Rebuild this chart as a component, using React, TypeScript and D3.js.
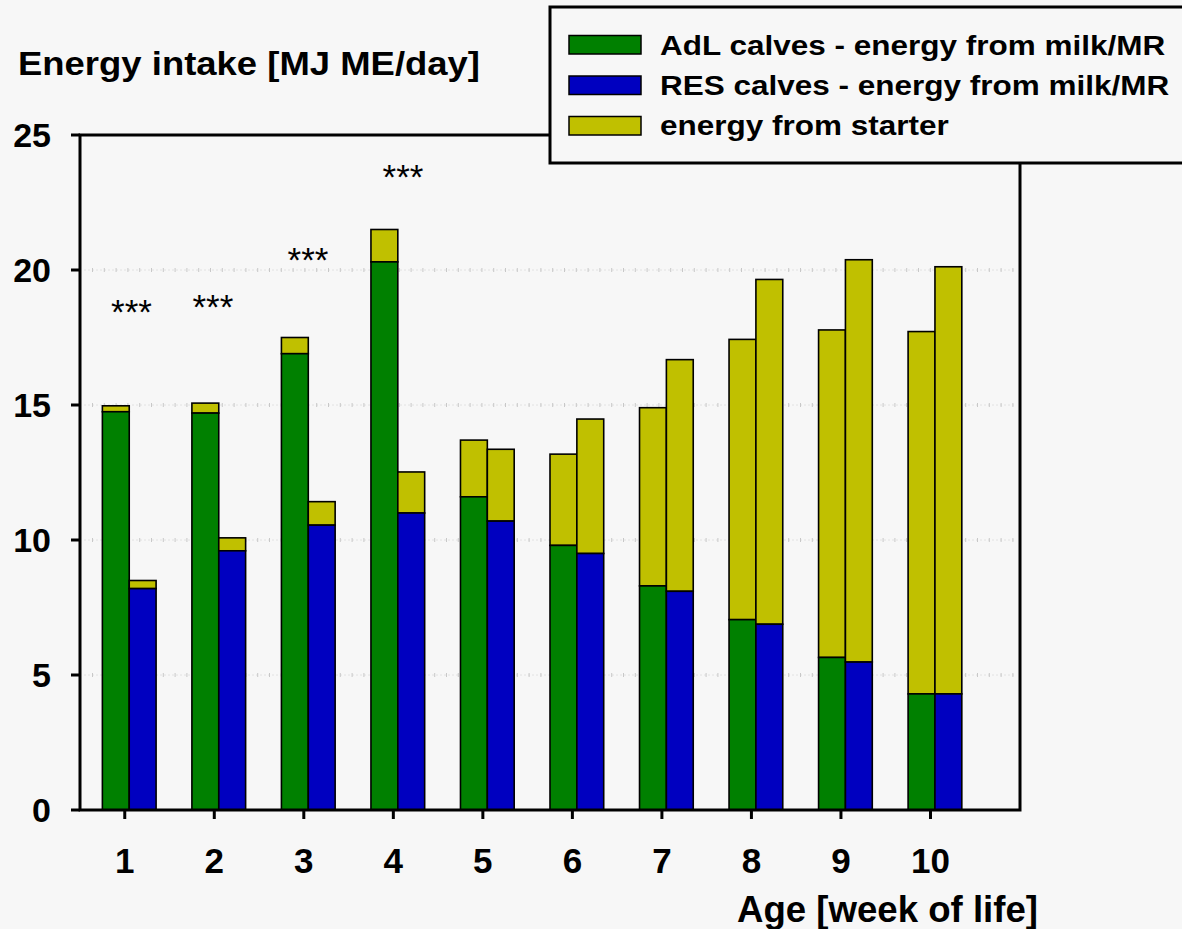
import React from "react";
import * as d3 from "d3";

const weeks = [1, 2, 3, 4, 5, 6, 7, 8, 9, 10];
const adlMilk = [14.75, 14.7, 16.9, 20.3, 11.6, 9.8, 8.3, 7.05, 5.65, 4.3];
const adlTotal = [14.97, 15.07, 17.5, 21.5, 13.7, 13.18, 14.9, 17.43, 17.78, 17.72];
const resMilk = [8.2, 9.6, 10.55, 11.0, 10.7, 9.5, 8.1, 6.88, 5.48, 4.3];
const resTotal = [8.5, 10.08, 11.42, 12.52, 13.36, 14.48, 16.68, 19.65, 20.38, 20.12];
const yTicks = [0, 5, 10, 15, 20, 25];
const gridTicks = [5, 10, 15, 20];
const starWeeks = [1, 2, 3, 4];
const starLevels = [18.74, 18.94, 20.67, 23.74];
const starShift = [0.075, -0.015, 0.047, 0.108];
const legendLabels = [
  "AdL calves - energy from milk/MR",
  "RES calves - energy from milk/MR",
  "energy from starter",
];

const GREEN = "#008000";
const BLUE = "#0000c0";
const YELLOW = "#c0c000";
const BG = "#f7f7f7";
const FONT = "Liberation Sans, Arial, sans-serif";

export default function App() {
  const W = 1182, H = 929;
  const x = d3.scaleLinear().domain([0.5, 11]).range([80, 1020]);
  const y = d3.scaleLinear().domain([0, 25]).range([810, 135]);
  const bw = 0.3;
  const off = 0.05;
  const legendColors = [GREEN, BLUE, YELLOW];

  return (
    <svg width={W} height={H} style={{ position: "absolute", left: 0, top: 0, background: BG }}>
      <rect x={0} y={0} width={W} height={H} fill={BG} />
      {gridTicks.map((t) => (
        <g key={"g" + t}>
          <line x1={x(0.5) + 4} x2={x(11) - 4} y1={y(t)} y2={y(t)}
            stroke="#e2e2e2" strokeWidth={1} strokeDasharray="2,2" />
          <line x1={x(0.5) + 12} x2={x(11) - 4} y1={y(t)} y2={y(t)}
            stroke="#c8c8c8" strokeWidth={4} strokeDasharray="1,10.8" />
        </g>
      ))}
      {weeks.map((w, i) => {
        const gx0 = x(w + off - bw), gx1 = x(w + off);
        const bx1 = x(w + off + bw);
        return (
          <g key={"b" + w} stroke="#000" strokeWidth={1.6}>
            <rect x={gx0} y={y(adlTotal[i])} width={gx1 - gx0} height={y(adlMilk[i]) - y(adlTotal[i])} fill={YELLOW} />
            <rect x={gx0} y={y(adlMilk[i])} width={gx1 - gx0} height={y(0) - y(adlMilk[i])} fill={GREEN} />
            <rect x={gx1} y={y(resTotal[i])} width={bx1 - gx1} height={y(resMilk[i]) - y(resTotal[i])} fill={YELLOW} />
            <rect x={gx1} y={y(resMilk[i])} width={bx1 - gx1} height={y(0) - y(resMilk[i])} fill={BLUE} />
          </g>
        );
      })}
      {/* frame */}
      <rect x={x(0.5)} y={y(25)} width={x(11) - x(0.5)} height={y(0) - y(25)} fill="none" stroke="#000" strokeWidth={3} />
      {yTicks.map((t) => (
        <g key={"y" + t}>
          <line x1={x(0.5) - 9} x2={x(0.5)} y1={y(t)} y2={y(t)} stroke="#000" strokeWidth={3} />
          <text x={51} y={y(t)} dy="0.36em" textAnchor="end" fontFamily={FONT} fontWeight="bold" fontSize={34}>{t}</text>
        </g>
      ))}
      {weeks.map((w) => (
        <g key={"x" + w}>
          <line x1={x(w)} x2={x(w)} y1={y(0)} y2={y(0) + 9} stroke="#000" strokeWidth={3} />
          <text x={x(w)} y={873} textAnchor="middle" fontFamily={FONT} fontWeight="bold" fontSize={35}>{w}</text>
        </g>
      ))}
      {starWeeks.map((w, i) => (
        <text key={"s" + w} x={x(w + starShift[i])} y={y(starLevels[i])} dy="0.57em" textAnchor="middle" fontFamily={FONT} fontSize={35}>***</text>
      ))}
      <text x={18} y={75} fontFamily={FONT} fontWeight="bold" fontSize={33} textLength={462} lengthAdjust="spacingAndGlyphs">Energy intake [MJ ME/day]</text>
      <text x={737} y={922} fontFamily={FONT} fontWeight="bold" fontSize={37} textLength={301} lengthAdjust="spacingAndGlyphs">Age [week of life]</text>
      {/* legend */}
      <rect x={550} y={7} width={700} height={156} fill={BG} stroke="#000" strokeWidth={3} />
      {legendLabels.map((l, i) => (
        <g key={"l" + i}>
          <rect x={569} y={35.5 + i * 40.5} width={72} height={18.5} fill={legendColors[i]} stroke="#000" strokeWidth={1.5} />
          <text x={660} y={55 + i * 40} fontFamily={FONT} fontWeight="bold" fontSize={28}
            transform={`translate(660,0) scale(1.125,1) translate(-660,0)`}>{l}</text>
        </g>
      ))}
    </svg>
  );
}
